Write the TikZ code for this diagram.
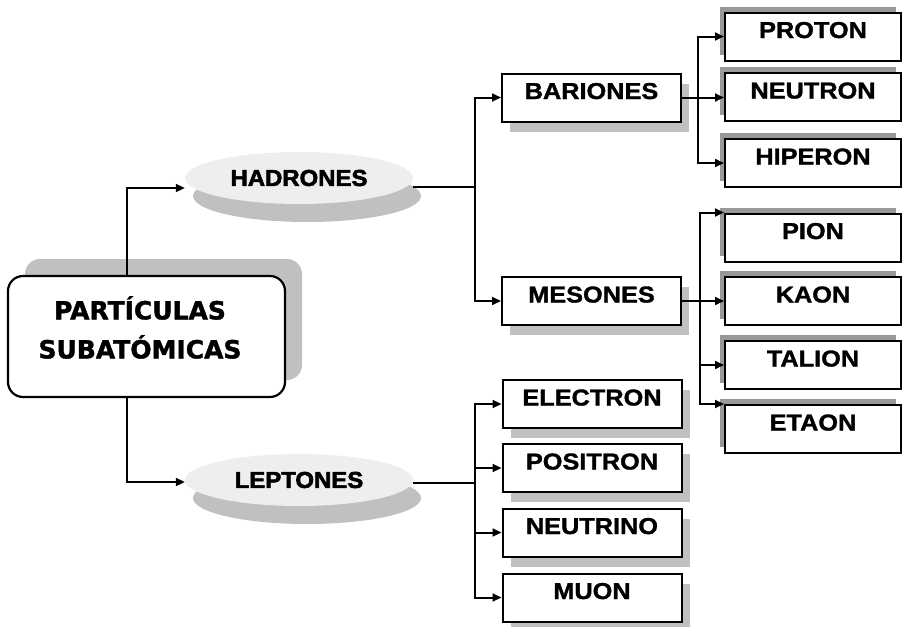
\documentclass[tikz,border=0pt]{standalone}
\usepackage{fontspec}
\usetikzlibrary{arrows.meta,shapes.geometric,shadows,calc}
\newfontfamily\partfont{DejaVu Sans}[FakeBold=1.5]
\newfontfamily\boxfont{Liberation Sans}[FakeStretch=1.1,FakeBold=1.4]
\newfontfamily\ellfont{Liberation Sans}[FakeStretch=1.04,FakeBold=2.6]
\definecolor{shlight}{HTML}{C0C0C0}
\definecolor{shdark}{HTML}{999999}
\definecolor{ellfill}{HTML}{EEEEEE}
\begin{document}
\begin{tikzpicture}[x=1pt,y=-1pt,
  line/.style={line width=2pt},
  arr/.style={line width=2pt,-{Triangle[length=9pt,width=8pt]}},
  basebox/.style={draw,line width=2pt,fill=white,minimum width=179pt,minimum height=48pt,inner sep=0pt,
    font=\boxfont\bfseries\fontsize{23}{23}\selectfont,text height=15pt,text depth=12pt},
  lbox/.style={basebox,general shadow={fill=shlight,shadow xshift=8pt,shadow yshift=-10pt}},
  rbox/.style={basebox,minimum width=176pt,general shadow={fill=shdark,shadow xshift=-5pt,shadow yshift=6pt}},
  ell/.style={ellipse,fill=ellfill,minimum width=228pt,minimum height=52pt,inner sep=0pt,
    font=\ellfont\bfseries\fontsize{23}{23}\selectfont,
    general shadow={fill=shlight,shadow xshift=8pt,shadow yshift=-18pt}},
  mainbox/.style={draw,line width=2.2pt,rounded corners=15pt,fill=white,minimum width=277pt,minimum height=121pt,
    general shadow={fill=shlight,shadow xshift=17pt,shadow yshift=17pt}},
]
\useasboundingbox (0,0) rectangle (903,627);

% main
\node[mainbox] (main) at (146.5,336.5) {};
\node[font=\partfont\bfseries\fontsize{25}{39}\selectfont,align=center] (maintext) at (140,327.5) {PARTÍCULAS\\SUBATÓMICAS};

% ellipses
\node[ell] (had) at (299,178) {HADRONES};
\node[ell] (lep) at (299,480) {LEPTONES};

% left column boxes
\node[lbox] (bar) at (591.5,97.5) {BARIONES};
\node[lbox] (mes) at (591.5,301) {MESONES};
\node[lbox] (ele) at (592,404) {ELECTRON};
\node[lbox] (pos) at (592,468) {POSITRON};
\node[lbox] (neu) at (592,532.5) {NEUTRINO};
\node[lbox] (muo) at (592,597.5) {MUON};

% right column boxes
\node[rbox] (pro) at (813,36.5) {PROTON};
\node[rbox] (neut) at (813,97) {NEUTRON};
\node[rbox] (hip) at (813,163) {HIPERON};
\node[rbox] (pio) at (813,237.5) {PION};
\node[rbox] (kao) at (813,301) {KAON};
\node[rbox] (tal) at (813,365) {TALION};
\node[rbox] (eta) at (813,429) {ETAON};

% junction coordinates
\coordinate (j1) at (127,188);
\coordinate (j2) at (127,482);
\coordinate (hv) at (475,187);
\coordinate (lv) at (475,483);
\coordinate (bv) at (698,97.5);
\coordinate (mv) at (700,301);

% main to ellipses
\draw[arr] (main.north -| j1) |- (had.west |- j1);
\draw[arr] (main.south -| j2) |- (lep.west |- j2);

% hadrones
\draw[line] (had.east |- hv) -- (hv);
\draw[arr] (hv) |- (bar.west);
\draw[arr] (hv) |- (mes.west);

% leptones
\draw[line] (lep.east |- lv) -- (lv);
\draw[arr] (lv) |- (ele.west);
\draw[arr] (lv) |- (pos.west);
\draw[arr] (lv) |- (neu.west);
\draw[arr] (lv) |- (muo.west);

% bariones
\draw[arr] (bar.east) -- (bar.east -| neut.west);
\draw[arr] (bv) |- (pro.west);
\draw[arr] (bv) |- (hip.west);

% mesones
\draw[arr] (mes.east) -- (mes.east -| kao.west);
\draw[arr] (mv) |- (pio.north west);
\draw[arr] (mv) |- (tal.west);
\draw[arr] (mv) |- (eta.north west);
\end{tikzpicture}
\end{document}
